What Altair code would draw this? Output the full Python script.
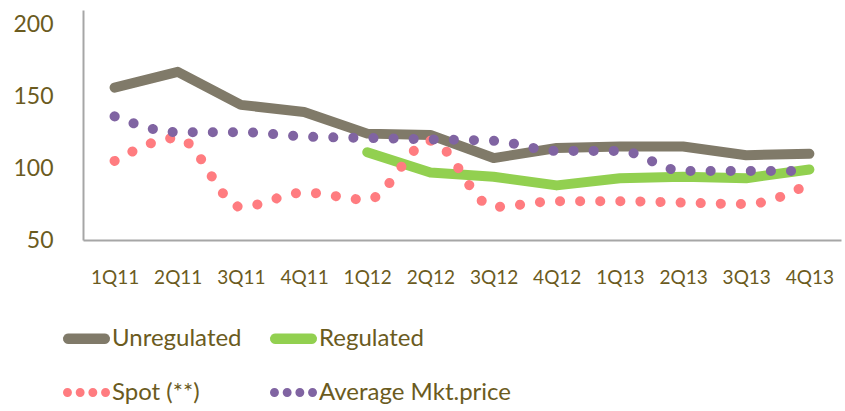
import math

import altair as alt
import pandas as pd

quarters = ["1Q11", "2Q11", "3Q11", "4Q11", "1Q12", "2Q12",
            "3Q12", "4Q12", "1Q13", "2Q13", "3Q13", "4Q13"]
unregulated = [156, 167, 144, 139, 124, 123, 107, 114, 115, 115, 109, 110]
regulated = [None, None, None, None, 111, 97, 94, 88, 93, 94, 93, 99]
spot = [105, 121, 73, 83, 78, 119, 73, 77, 77, 76, 75, 89]
avg_mkt = [136, 125, 125, 122, 121, 120, 119, 112, 112, 98, 98, 98]

series_names = ["Unregulated", "Regulated", "Spot (**)", "Average Mkt.price"]
series_colors = ["#807a69", "#92d050", "#ff7c80", "#8064a2"]
series_dotted = [False, False, True, True]
text_color = "#6b5b1e"
font = "Lato"

rows = []
for name, vals in zip(series_names, [unregulated, regulated, spot, avg_mkt]):
    for q, v in zip(quarters, vals):
        if v is not None:
            rows.append({"quarter": q, "series": name, "value": v})
df = pd.DataFrame(rows)


# Legend glyphs as filled outlines in the [-1, 1] symbol box.
def arc_points(cx, r, a0, a1, n=10):
    return [(cx + r * math.cos(a0 + (a1 - a0) * i / n),
             r * math.sin(a0 + (a1 - a0) * i / n)) for i in range(n + 1)]


def outline(pts):
    return "M" + "L".join(f"{x:.3f},{y:.3f}" for x, y in pts) + "Z"


bar_r = 0.22
bar_glyph = outline(
    arc_points(1 - bar_r, bar_r, -math.pi / 2, math.pi / 2)
    + arc_points(-1 + bar_r, bar_r, math.pi / 2, 3 * math.pi / 2)
)
dot_r = 0.19
dot_glyph = "".join(
    outline(arc_points(c, dot_r, 0, 2 * math.pi, 16)[:-1])
    for c in (-0.81, -0.27, 0.27, 0.81)
)
glyphs = [dot_glyph if d else bar_glyph for d in series_dotted]

x_enc = alt.X(
    "quarter:N",
    sort=quarters,
    scale=alt.Scale(domain=quarters, paddingInner=0, paddingOuter=0),
    axis=alt.Axis(
        title=None, labelAngle=0, ticks=False, domain=True,
        domainColor="#a6a6a6", domainWidth=2,
        labelFont=font, labelFontSize=19, labelColor=text_color,
        labelPadding=28,
    ),
)
y_enc = alt.Y(
    "value:Q",
    scale=alt.Scale(domain=[50, 210], nice=False, zero=False),
    axis=alt.Axis(
        title=None, values=[50, 100, 150, 200], grid=False, ticks=False,
        domainColor="#a6a6a6", domainWidth=2,
        labelFont=font, labelFontSize=23, labelColor=text_color,
        labelPadding=30,
    ),
)

layers = []
for name, colr, dotted in zip(series_names, series_colors, series_dotted):
    if dotted:
        mark = alt.MarkDef(type="line", color=colr, strokeWidth=10,
                           strokeCap="round", strokeDash=[0.1, 20],
                           interpolate="monotone")
    else:
        mark = alt.MarkDef(type="line", color=colr, strokeWidth=10,
                           strokeCap="round", strokeJoin="round")
    layers.append(
        alt.Chart(df, mark=mark).transform_filter(
            alt.datum.series == name
        ).encode(x=x_enc, y=y_enc)
    )

legend = alt.Legend(
    title=None,
    orient="none",
    legendX=-20,
    legendY=305,
    columns=2,
    direction="horizontal",
    gridAlign="each",
    columnPadding=28,
    rowPadding=18,
    symbolSize=2209,
    symbolStrokeWidth=0,
    symbolOpacity=1,
    symbolOffset=0,
    labelFont=font,
    labelFontSize=24,
    labelColor=text_color,
    labelOffset=2,
    labelLimit=300,
)

# legend-only layer: no rows survive the filter, entries come from the scale domain
key = alt.Chart(df).transform_filter("false").mark_point(
    filled=True, opacity=1, strokeWidth=0
).encode(
    x=x_enc, y=y_enc,
    color=alt.Color("series:N",
                    scale=alt.Scale(domain=series_names, range=series_colors),
                    legend=legend),
    shape=alt.Shape("series:N",
                    scale=alt.Scale(domain=series_names, range=glyphs),
                    legend=legend),
)

chart = alt.layer(*layers, key).properties(
    width=758, height=230,
    background="white",
    autosize=alt.AutoSizeParams(type="none"),
    padding={"left": 83, "top": 10, "right": 4, "bottom": 171},
).configure_view(stroke=None)

chart.save("out.html", embed_options={"renderer": "svg", "actions": False})
